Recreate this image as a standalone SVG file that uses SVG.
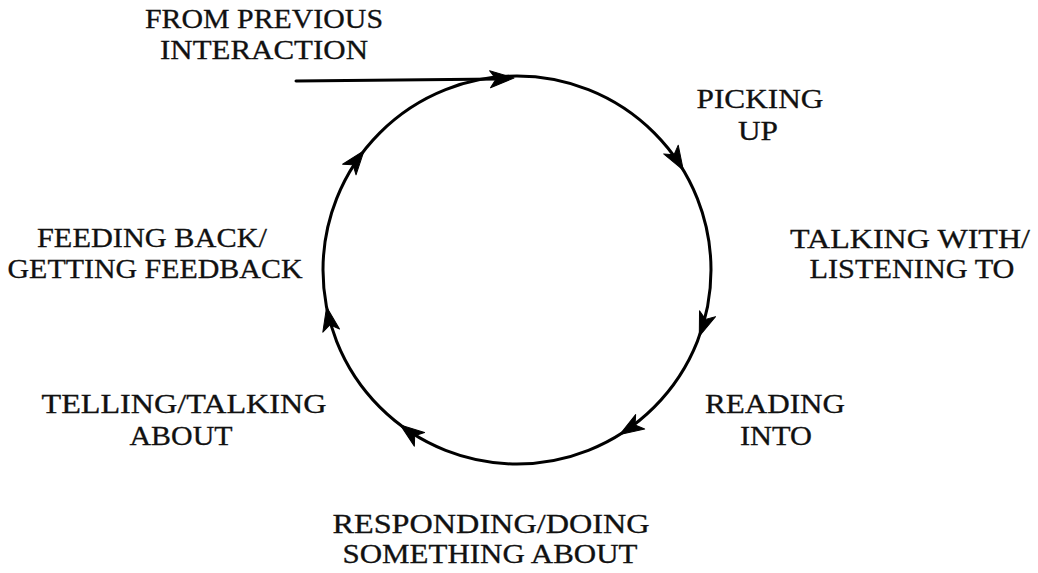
<svg xmlns="http://www.w3.org/2000/svg" width="1038" height="573" viewBox="0 0 1038 573">
<defs>
<style>
.lbl{font-family:"Liberation Serif","Times New Roman",serif;font-size:27px;fill:#111;stroke:#111;stroke-width:0.3;text-anchor:middle}
.ln{fill:none;stroke:#000;stroke-width:3;stroke-linecap:round}
.ah{fill:#000;stroke:#000;stroke-width:1;stroke-linejoin:round}
</style>
<path id="ah" class="ah" d="M0,0 L-24,-8.5 L-18,0 L-24,8.5 Z"/>
</defs>
<rect width="1038" height="573" fill="#fff"/>
<g id="connectors">
<circle class="ln" cx="517" cy="270" r="194"/>
<path class="ln" d="M296,81 L500,79"/>
<use href="#ah" transform="translate(514,78) rotate(-3)"/>
<use href="#ah" transform="translate(683.3,170.1) rotate(59)"/>
<use href="#ah" transform="translate(699.3,336.3) rotate(110)"/>
<use href="#ah" transform="translate(619.8,434.5) rotate(148)"/>
<use href="#ah" transform="translate(400.3,424.9) rotate(217)"/>
<use href="#ah" transform="translate(326.6,307) rotate(259)"/>
<use href="#ah" transform="translate(364.1,150.6) rotate(308)"/>
</g>
<g id="from-previous">
<text class="lbl" x="264" y="28" textLength="238" lengthAdjust="spacingAndGlyphs">FROM PREVIOUS</text>
<text class="lbl" x="264" y="59" textLength="208" lengthAdjust="spacingAndGlyphs">INTERACTION</text>
</g>
<g id="picking-up">
<text class="lbl" x="760" y="108" textLength="127" lengthAdjust="spacingAndGlyphs">PICKING</text>
<text class="lbl" x="758" y="140" textLength="40" lengthAdjust="spacingAndGlyphs">UP</text>
</g>
<g id="talking-with">
<text class="lbl" x="910" y="248" textLength="240" lengthAdjust="spacingAndGlyphs">TALKING WITH/</text>
<text class="lbl" x="912" y="278" textLength="205" lengthAdjust="spacingAndGlyphs">LISTENING TO</text>
</g>
<g id="reading-into">
<text class="lbl" x="775" y="413" textLength="140" lengthAdjust="spacingAndGlyphs">READING</text>
<text class="lbl" x="776" y="445" textLength="72" lengthAdjust="spacingAndGlyphs">INTO</text>
</g>
<g id="responding">
<text class="lbl" x="491" y="533" textLength="317" lengthAdjust="spacingAndGlyphs">RESPONDING/DOING</text>
<text class="lbl" x="490" y="563" textLength="295" lengthAdjust="spacingAndGlyphs">SOMETHING ABOUT</text>
</g>
<g id="telling">
<text class="lbl" x="184" y="413" textLength="285" lengthAdjust="spacingAndGlyphs">TELLING/TALKING</text>
<text class="lbl" x="181" y="445" textLength="103" lengthAdjust="spacingAndGlyphs">ABOUT</text>
</g>
<g id="feeding-back">
<text class="lbl" x="152" y="247" textLength="230" lengthAdjust="spacingAndGlyphs">FEEDING BACK/</text>
<text class="lbl" x="155" y="278" textLength="295" lengthAdjust="spacingAndGlyphs">GETTING FEEDBACK</text>
</g>
</svg>
